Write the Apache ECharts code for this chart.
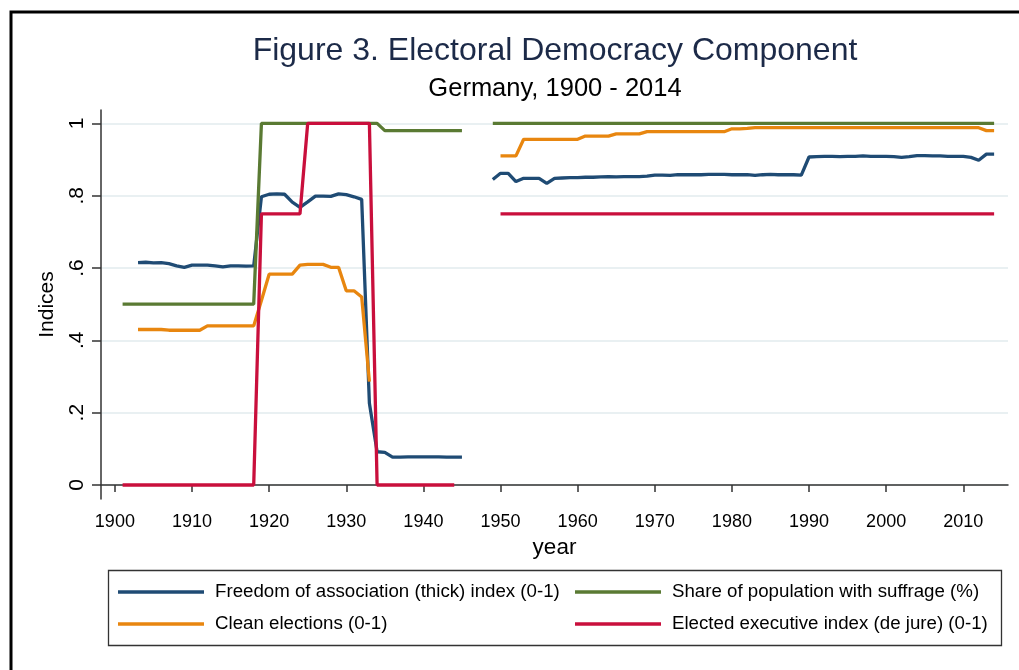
<!DOCTYPE html>
<html><head><meta charset="utf-8">
<script src="https://cdn.jsdelivr.net/npm/echarts@6/dist/echarts.min.js"></script>
<style>html,body{margin:0;padding:0;background:#fff}#c{width:1019px;height:670px}</style>
</head><body><div id="c"></div>
<script>
const years = [1900,1901,1902,1903,1904,1905,1906,1907,1908,1909,1910,1911,1912,1913,1914,1915,1916,1917,1918,1919,
1920,1921,1922,1923,1924,1925,1926,1927,1928,1929,1930,1931,1932,1933,1934,1935,1936,1937,1938,1939,
1940,1941,1942,1943,1944,1945,1946,1947,1948,1949,1950,1951,1952,1953,1954,1955,1956,1957,1958,1959,
1960,1961,1962,1963,1964,1965,1966,1967,1968,1969,1970,1971,1972,1973,1974,1975,1976,1977,1978,1979,
1980,1981,1982,1983,1984,1985,1986,1987,1988,1989,1990,1991,1992,1993,1994,1995,1996,1997,1998,1999,
2000,2001,2002,2003,2004,2005,2006,2007,2008,2009,2010,2011,2012,2013,2014];

const freedomAssoc = [null,null,null,.615,.616,.614,.615,.612,.606,.602,.608,.608,.608,.606,.603,.606,.606,.605,.606,.797,
.804,.805,.804,.782,.768,.783,.799,.799,.798,.805,.803,.797,.790,.226,.092,.090,.077,.077,.078,.078,
.078,.078,.078,.077,.077,.077,null,null,null,.845,.862,.862,.839,.848,.848,.848,.834,.848,.849,.850,
.850,.851,.851,.852,.853,.852,.853,.853,.853,.854,.857,.857,.856,.858,.858,.858,.858,.859,.859,.859,
.858,.858,.858,.856,.858,.859,.858,.858,.858,.857,.907,.908,.909,.909,.908,.909,.909,.910,.909,.909,
.909,.908,.906,.908,.911,.911,.910,.910,.909,.909,.909,.906,.898,.915,.915];

const suffrage = [null,.5,.5,.5,.5,.5,.5,.5,.5,.5,.5,.5,.5,.5,.5,.5,.5,.5,.5,1,
1,1,1,1,1,1,1,1,1,1,1,1,1,1,1,.98,.98,.98,.98,.98,
.98,.98,.98,.98,.98,.98,null,null,null,1,1,1,1,1,1,1,1,1,1,1,
1,1,1,1,1,1,1,1,1,1,1,1,1,1,1,1,1,1,1,1,
1,1,1,1,1,1,1,1,1,1,1,1,1,1,1,1,1,1,1,1,
1,1,1,1,1,1,1,1,1,1,1,1,1,1,1];

const cleanElections = [null,null,null,.43,.43,.43,.43,.428,.428,.428,.428,.428,.44,.44,.44,.44,.44,.44,.44,.51,
.583,.583,.583,.583,.608,.61,.61,.61,.602,.602,.537,.537,.52,.286,null,null,null,null,null,null,
null,null,null,null,null,null,null,null,null,null,.91,.91,.91,.956,.956,.956,.956,.956,.956,.956,
.956,.965,.965,.965,.965,.971,.971,.971,.971,.977,.977,.977,.977,.977,.977,.977,.977,.977,.977,.977,
.985,.985,.986,.988,.988,.988,.988,.988,.988,.988,.988,.988,.988,.988,.988,.988,.988,.988,.988,.988,
.988,.988,.988,.988,.988,.988,.988,.988,.988,.988,.988,.988,.988,.98,.98];

const electedExec = [null,0,0,0,0,0,0,0,0,0,0,0,0,0,0,0,0,0,0,.75,
.75,.75,.75,.75,.75,1,1,1,1,1,1,1,1,1,0,0,0,0,0,0,
0,0,0,0,0,null,null,null,null,null,.75,.75,.75,.75,.75,.75,.75,.75,.75,.75,
.75,.75,.75,.75,.75,.75,.75,.75,.75,.75,.75,.75,.75,.75,.75,.75,.75,.75,.75,.75,
.75,.75,.75,.75,.75,.75,.75,.75,.75,.75,.75,.75,.75,.75,.75,.75,.75,.75,.75,.75,
.75,.75,.75,.75,.75,.75,.75,.75,.75,.75,.75,.75,.75,.75,.75];

const xTicks = [1900,1910,1920,1930,1940,1950,1960,1970,1980,1990,2000,2010];
const yTicks = [0,.2,.4,.6,.8,1];
const yTickLabels = ['0','.2','.4','.6','.8','1'];

const names = ['Freedom of association (thick) index (0-1)','Share of population with suffrage (%)',
  'Clean elections (0-1)','Elected executive index (de jure) (0-1)'];
const colors = ['#1f4b74','#5a7a33','#e8860f','#c90f3c'];
const valueSets = [freedomAssoc, suffrage, cleanElections, electedExec];

const FONT = "'Liberation Sans', Arial, sans-serif";
const chart = echarts.init(document.getElementById('c'), null, {renderer:'canvas'});

const series = valueSets.map((vals, i) => ({
  name: names[i], type: 'line', symbol: 'none', connectNulls: false,
  data: years.map((y, k) => [y, vals[k]]),
  lineStyle: {width: 3.3, color: colors[i]}, itemStyle: {color: colors[i]},
  emphasis: {disabled: true}, animation: false, z: 2 + i
}));

const legendCommon = {
  orient: 'vertical', icon: 'rect', itemWidth: 86, itemHeight: 3.5, itemGap: 12, padding: 0,
  textStyle: {fontFamily: FONT, fontSize: 18.7, color: '#000', lineHeight: 20, padding: [0,0,0,6]},
  selectedMode: false, top: 582
};

chart.setOption({
  animation: false,
  backgroundColor: '#fff',
  grid: {left: 101, right: 11, top: 110, bottom: 171, containLabel: false},
  xAxis: {
    type: 'value', min: 1898.2, max: 2015.8,
    name: 'year', nameLocation: 'middle', nameGap: 33,
    nameTextStyle: {fontFamily: FONT, fontSize: 22.5, color: '#000'},
    axisLine: {show: true, lineStyle: {color: '#333', width: 1.5}},
    axisTick: {show: true, length: 7, customValues: xTicks, lineStyle: {color: '#333', width: 1.5}},
    axisLabel: {customValues: xTicks, fontFamily: FONT, fontSize: 18, color: '#000', margin: 14,
      formatter: v => String(v)},
    splitLine: {show: false}
  },
  yAxis: {
    type: 'value', min: -0.0387, max: 1.037,
    name: 'Indices', nameLocation: 'middle', nameGap: 43, nameRotate: 90,
    nameTextStyle: {fontFamily: FONT, fontSize: 21, color: '#000'},
    axisLine: {show: true, lineStyle: {color: '#333', width: 1.5}},
    axisTick: {show: true, length: 9, customValues: yTicks, lineStyle: {color: '#333', width: 1.5}},
    axisLabel: {customValues: yTicks, rotate: 90, fontFamily: FONT, fontSize: 21, color: '#000', margin: 13,
      formatter: v => yTickLabels[yTicks.findIndex(t => Math.abs(t - v) < 1e-6)]},
    splitLine: {show: true, lineStyle: {color: '#e9f0f2', width: 2}}
  },
  legend: [
    Object.assign({}, legendCommon, {left: 118, data: [names[0], names[2]]}),
    Object.assign({}, legendCommon, {left: 575, data: [names[1], names[3]]})
  ],
  graphic: [
    {type: 'rect', shape: {x: 11, y: 12, width: 1100, height: 1000}, style: {fill: 'none', stroke: '#000', lineWidth: 3}, silent: true, z: 100},
    {type: 'rect', shape: {x: 108.5, y: 570.5, width: 893, height: 75}, style: {fill: 'none', stroke: '#333', lineWidth: 1.3}, silent: true, z: 100},
    {type: 'text', x: 555, y: 51, style: {text: 'Figure 3. Electoral Democracy Component', fontFamily: FONT, fontSize: 32, fill: '#1c2a48', textAlign: 'center', textVerticalAlign: 'middle'}, silent: true},
    {type: 'text', x: 555, y: 89, style: {text: 'Germany, 1900 - 2014', fontFamily: FONT, fontSize: 25.5, fill: '#000', textAlign: 'center', textVerticalAlign: 'middle'}, silent: true}
  ],
  series: series
});
</script></body></html>
